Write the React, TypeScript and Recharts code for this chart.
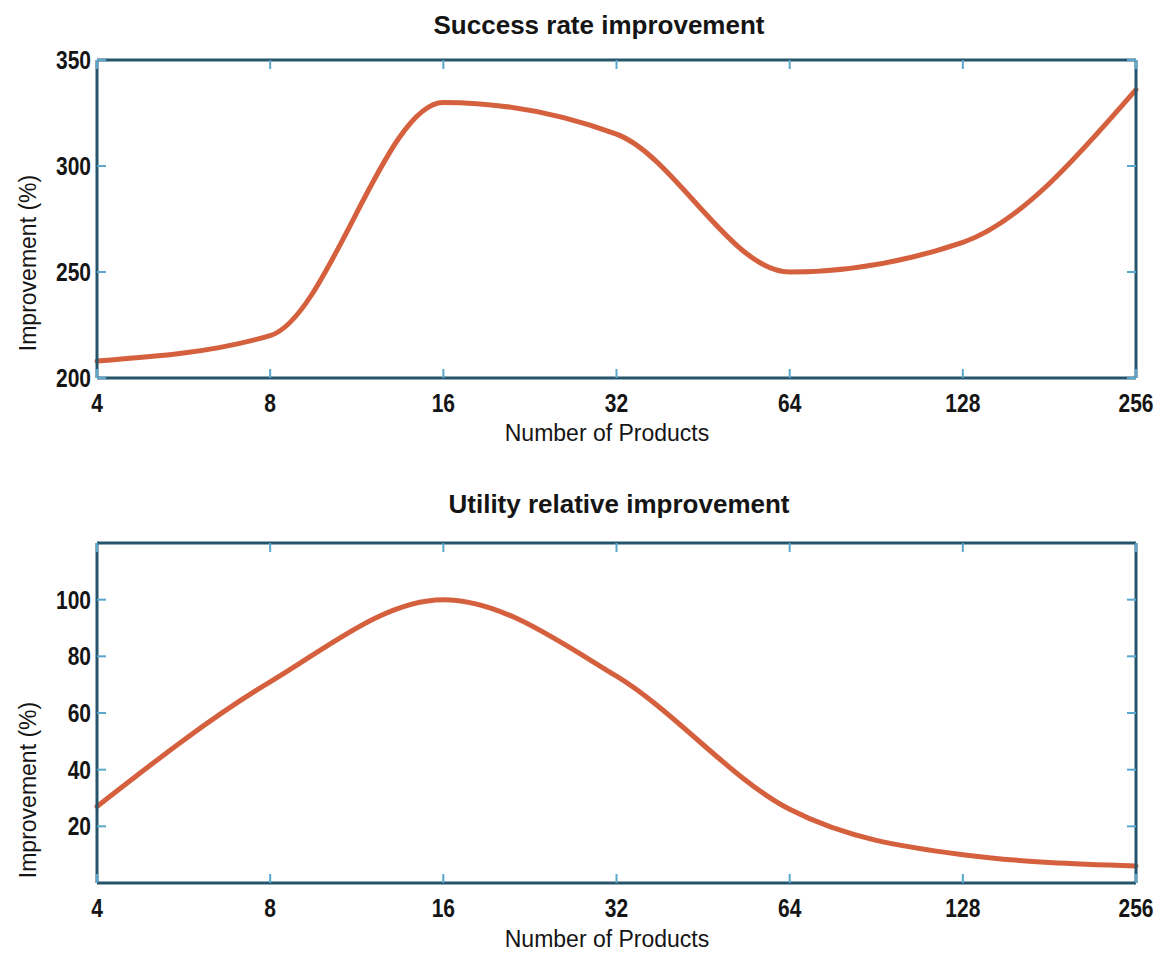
import React from 'react';
import { LineChart, Line, XAxis, YAxis } from 'recharts';

// ---- data ----
const products = ['4', '8', '16', '32', '64', '128', '256'];
const successRate = [208, 220, 330, 315, 250, 264, 336];
const utilityImprovement = [27, 71, 100, 73, 26, 10, 6];
const successTicks = [200, 250, 300, 350];
const utilityTicks = [20, 40, 60, 80, 100];

const successData = products.map((p, i) => ({ products: p, value: successRate[i] }));
const utilityData = products.map((p, i) => ({ products: p, value: utilityImprovement[i] }));

// ---- styles ----
const AXIS = '#24556a';
const TICK = '#5aa6cc';
const LINE = '#d5603e';
const TICK_FONT = "'Liberation Sans', Arial, sans-serif";
const TEXT_FONT = "'Liberation Sans', Arial, sans-serif";
const TL = 9;
const NARROW = 0.84;

const TickText = (props: { x: number; y: number; anchor: 'middle' | 'end'; value: any }) => (
  <g transform={`translate(${props.x},${props.y}) scale(${NARROW},1)`}>
    <text x={0} y={0} textAnchor={props.anchor} fontFamily={TICK_FONT} fontWeight="bold" fontSize={25} fill="#151515">
      {props.value}
    </text>
  </g>
);

const BottomTick = (props: any) => {
  const { x, y, payload } = props;
  return (
    <g>
      <line x1={x} x2={x} y1={y} y2={y - TL} stroke={TICK} strokeWidth={2} />
      <TickText x={x} y={y + 34} anchor="middle" value={payload.value} />
    </g>
  );
};
const TopTick = (props: any) => {
  const { x, y } = props;
  return <line x1={x} x2={x} y1={y} y2={y + TL} stroke={TICK} strokeWidth={2} />;
};
const LeftTick = (props: any) => {
  const { x, y, payload } = props;
  return (
    <g>
      <line x1={x} x2={x + TL} y1={y} y2={y} stroke={TICK} strokeWidth={2} />
      <TickText x={x - 6} y={y + 9} anchor="end" value={payload.value} />
    </g>
  );
};
const RightTick = (props: any) => {
  const { x, y } = props;
  return <line x1={x} x2={x - TL} y1={y} y2={y} stroke={TICK} strokeWidth={2} />;
};

const axisLine = { stroke: AXIS, strokeWidth: 3 };

function Panel(props: { data: any[]; domain: [number, number]; ticks: number[]; height: number; top: number; bottom: number }) {
  const { data, domain, ticks, height, top, bottom } = props;
  return (
    <LineChart width={1153} height={height} data={data} margin={{ top: top - 1, right: 24, left: 88, bottom }}>
      <XAxis dataKey="products" type="category" interval={0} height={30} tickSize={0} tickMargin={0}
        tickLine={false} axisLine={axisLine} tick={<BottomTick />} />
      <XAxis xAxisId="top" orientation="top" dataKey="products" type="category" interval={0} height={1}
        tickSize={0} tickMargin={0} tickLine={false} axisLine={axisLine} tick={<TopTick />} />
      <YAxis domain={domain} ticks={ticks} type="number" interval={0} width={1} tickSize={0} tickMargin={0}
        tickLine={false} axisLine={axisLine} tick={<LeftTick />} allowDataOverflow />
      <YAxis yAxisId="right" orientation="right" domain={domain} ticks={ticks} type="number" interval={0} width={1}
        tickSize={0} tickMargin={0} tickLine={false} axisLine={axisLine} tick={<RightTick />} allowDataOverflow />
      <Line dataKey="value" type="monotone" stroke={LINE} strokeWidth={5} dot={false} strokeLinecap="round"
        isAnimationActive={false} />
    </LineChart>
  );
}

const titleStyle: React.CSSProperties = {
  position: 'absolute', transform: 'translateX(-50%)', whiteSpace: 'nowrap',
  fontFamily: TEXT_FONT, fontWeight: 'bold', fontSize: 26, lineHeight: '26px', color: '#151515',
};
const xTitleStyle: React.CSSProperties = {
  position: 'absolute', transform: 'translateX(-50%)', whiteSpace: 'nowrap',
  fontFamily: TEXT_FONT, fontSize: 23, lineHeight: '23px', color: '#151515',
};
const yTitleStyle: React.CSSProperties = {
  position: 'absolute', transform: 'translate(-50%, -50%) rotate(-90deg)', whiteSpace: 'nowrap',
  fontFamily: TEXT_FONT, fontSize: 23, lineHeight: '23px', color: '#151515',
};

export default function App() {
  return (
    <div style={{ position: 'relative', width: 1153, height: 946, background: '#fff' }}>
      <div style={{ position: 'absolute', left: 0, top: 0 }}>
        <Panel data={successData} domain={[200, 350]} ticks={successTicks} height={430} top={52} bottom={30} />
      </div>
      <div style={{ position: 'absolute', left: 0, top: 480 }}>
        <Panel data={utilityData} domain={[0, 120]} ticks={utilityTicks} height={440} top={55} bottom={15} />
      </div>
      <div style={{ ...titleStyle, left: 591, top: 4 }}>Success rate improvement</div>
      <div style={{ ...titleStyle, left: 611, top: 483 }}>Utility relative improvement</div>
      <div style={{ ...xTitleStyle, left: 599, top: 414 }}>Number of Products</div>
      <div style={{ ...xTitleStyle, left: 599, top: 920 }}>Number of Products</div>
      <div style={{ ...yTitleStyle, left: 20, top: 255 }}>Improvement (%)</div>
      <div style={{ ...yTitleStyle, left: 20, top: 782 }}>Improvement (%)</div>
    </div>
  );
}
